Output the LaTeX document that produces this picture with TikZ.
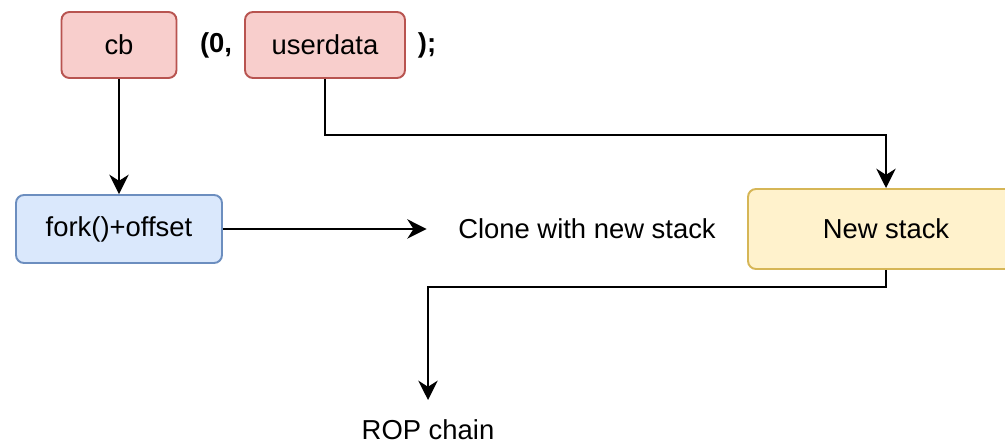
\documentclass[tikz,border=0pt]{standalone}
\usepackage{fontspec}
\setmainfont{Liberation Sans}
\usepackage{xcolor}
\definecolor{argFill}{HTML}{F8CECC}
\definecolor{argLine}{HTML}{B85450}
\definecolor{funcFill}{HTML}{DAE8FC}
\definecolor{funcLine}{HTML}{6C8EBF}
\definecolor{stackFill}{HTML}{FFF2CC}
\definecolor{stackLine}{HTML}{D6B656}
\usetikzlibrary{arrows.meta}

\begin{document}
\begin{tikzpicture}[
    box/.style={rounded corners=0.16cm, line width=1.1pt, align=center, inner sep=0pt},
    argbox/.style={box, fill=argFill, draw=argLine},
    funcbox/.style={box, fill=funcFill, draw=funcLine},
    stackbox/.style={box, fill=stackFill, draw=stackLine},
    label/.style={inner sep=0pt},
    flow/.style={line width=1.25pt, -{Stealth[length=11pt, width=11pt, inset=3.5pt]}},
    every node/.style={font=\fontsize{15.6}{18}\selectfont}
  ]
  \clip (0,0) rectangle (20.1,8.9);
  \filldraw[fill=white, draw=none] (0,0) rectangle (20.1,8.9);
  % call line: cb (0, userdata );
  \node[argbox, minimum width=2.3cm, minimum height=1.32cm] (cb) at (2.38,8.0) {cb};
  \node[label, font=\fontsize{15.6}{18}\selectfont\bfseries] (zero) at (4.32,8.0) {(0,};
  \node[argbox, minimum width=3.2cm, minimum height=1.32cm] (userdata) at (6.5,8.0) {userdata};
  \node[label, font=\fontsize{15.6}{18}\selectfont\bfseries] (close) at (8.54,8.0) {);};
  % middle row
  \node[funcbox, minimum width=4.12cm, minimum height=1.36cm] (fork) at (2.38,4.32) {fork()+offset};
  \node[label, minimum width=6.4cm, minimum height=1.2cm] (clone) at (11.74,4.32) {Clone with new stack};
  \node[stackbox, minimum width=5.52cm, minimum height=1.6cm] (stack) at (17.72,4.32) {New stack};
  % bottom
  \node[label, minimum height=1.2cm] (rop) at (8.56,0.3) {ROP chain};
  \coordinate (ropin) at (8.56,0.9);
  \draw[flow] (cb) -- (fork);
  \draw[flow] (fork) -- (clone);
  \draw[flow] (userdata.south) |- (17.72,6.2) -- (stack.north);
  \draw[flow] (stack.south) |- (8.56,3.16) -- (ropin);
\end{tikzpicture}
\end{document}
